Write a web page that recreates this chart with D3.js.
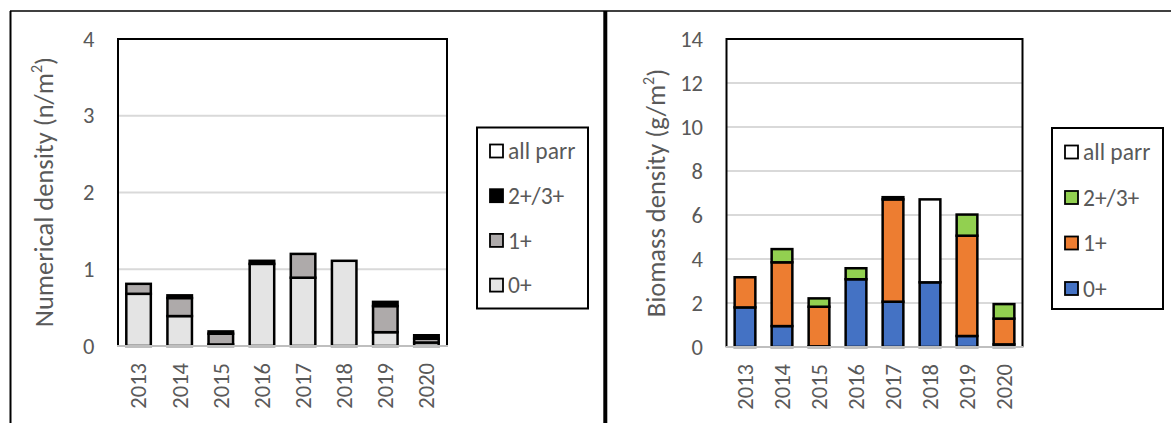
<!DOCTYPE html>
<html>
<head>
<meta charset="utf-8">
<script src="https://cdn.jsdelivr.net/npm/d3@7"></script>
<style>
  html, body { margin: 0; padding: 0; background: #fff; }
  svg { display: block; }
  text { font-family: Carlito, Lato, "Liberation Sans", sans-serif; fill: #595959; }
</style>
</head>
<body>
<svg id="chart" width="1171" height="423"></svg>
<script>
// Survey years
const years = ["2013", "2014", "2015", "2016", "2017", "2018", "2019", "2020"];

// Age classes, stacked from the bottom up
const ageClasses = ["0+", "1+", "2+/3+", "all parr"];

// Numerical density (n/m²) by age class
const numAge0 = [0.68, 0.39, 0.02, 1.07, 0.89, 1.11, 0.18, 0.045];
const numAge1 = [0.13, 0.235, 0.14, 0, 0.31, 0, 0.34, 0.05];
const numAge2 = [0, 0.035, 0.03, 0.04, 0, 0, 0.055, 0.045];
const numAllParr = [0, 0, 0, 0, 0, 0, 0, 0];

// Biomass density (g/m²) by age class
const bioAge0 = [1.8, 0.95, 0.03, 3.08, 2.06, 2.94, 0.5, 0.12];
const bioAge1 = [1.37, 2.9, 1.8, 0, 4.65, 0, 4.56, 1.17];
const bioAge2 = [0, 0.6, 0.38, 0.5, 0.1, 0, 0.96, 0.66];
const bioAllParr = [0, 0, 0, 0, 0, 3.77, 0, 0];

// Axis ticks
const numTicks = [0, 1, 2, 3, 4];
const bioTicks = [0, 2, 4, 6, 8, 10, 12, 14];

const svg = d3.select("#chart");
const FONT = "Carlito, Lato, sans-serif";

// Panel frames
const frame = svg.append("g").attr("fill", "none").attr("stroke", "#000");
frame.append("line").attr("x1", 10).attr("x2", 1171).attr("y1", 11).attr("y2", 11).attr("stroke-width", 1.5);
frame.append("line").attr("x1", 10.5).attr("x2", 10.5).attr("y1", 11).attr("y2", 423).attr("stroke-width", 2);
frame.append("line").attr("x1", 605.3).attr("x2", 605.3).attr("y1", 11).attr("y2", 423).attr("stroke-width", 4);

function buildRows(a0, a1, a2, ap) {
  return years.map((y, i) => ({ year: y, "0+": a0[i], "1+": a1[i], "2+/3+": a2[i], "all parr": ap[i] }));
}

function drawPanel(cfg) {
  const g = svg.append("g");
  const x = d3.scaleBand().domain(years).range([cfg.left, cfg.right])
    .paddingInner(cfg.pad).paddingOuter(cfg.pad / 2);
  const y = d3.scaleLinear().domain([0, cfg.max]).range([cfg.bottom, cfg.top]);

  // Gridlines
  g.append("g").selectAll("line").data(cfg.ticks.filter(t => t > 0 && t < cfg.max)).join("line")
    .attr("x1", cfg.left).attr("x2", cfg.right)
    .attr("y1", d => y(d)).attr("y2", d => y(d))
    .attr("stroke", "#d9d9d9").attr("stroke-width", 2);

  // Stacked bars
  const stack = d3.stack().keys(ageClasses)(cfg.rows);
  const layers = g.append("g").selectAll("g").data(stack).join("g")
    .attr("fill", d => cfg.colors[d.key]);
  layers.selectAll("rect").data(d => d.filter(s => s[1] - s[0] > 0)).join("rect")
    .attr("x", d => x(d.data.year) + 1)
    .attr("width", x.bandwidth() - 2)
    .attr("y", d => y(d[1]))
    .attr("height", d => y(d[0]) - y(d[1]))
    .attr("stroke", "#000").attr("stroke-width", 2.5);

  // Plot-area border: black on top and sides, gray baseline
  g.append("path")
    .attr("d", `M${cfg.left},${cfg.bottom}V${cfg.top}H${cfg.right}V${cfg.bottom}`)
    .attr("fill", "none").attr("stroke", "#000").attr("stroke-width", 2);
  g.append("line").attr("x1", cfg.left - 1).attr("x2", cfg.right + 1)
    .attr("y1", cfg.bottom).attr("y2", cfg.bottom)
    .attr("stroke", "#bfbfbf").attr("stroke-width", 2);

  // Y axis labels
  const yAxis = d3.axisLeft(y).tickValues(cfg.ticks).tickSize(0).tickPadding(23.5).tickFormat(d3.format("d"));
  const ya = g.append("g").attr("transform", `translate(${cfg.left},0)`).call(yAxis)
    .attr("font-size", 22.5).attr("font-family", FONT);
  ya.select(".domain").remove();
  ya.selectAll("text").attr("fill", "#595959");

  // X axis labels, rotated
  const xAxis = d3.axisBottom(x).tickSize(0).tickPadding(0);
  const xa = g.append("g").attr("transform", `translate(0,${cfg.bottom})`).call(xAxis)
    .attr("font-size", 22.5).attr("font-family", FONT);
  xa.select(".domain").remove();
  xa.selectAll("text")
    .attr("fill", "#595959")
    .attr("text-anchor", "end")
    .attr("dy", "0.35em")
    .attr("transform", "translate(0,17) rotate(-90)")
    .attr("x", 0).attr("y", 0);

  // Axis title
  const t = g.append("text")
    .attr("transform", `translate(${cfg.titleX},${cfg.titleY}) rotate(-90)`)
    .attr("text-anchor", "middle").attr("dy", "0.35em")
    .attr("font-size", 26.5);
  t.append("tspan").text(cfg.title);
  t.append("tspan").text("2").attr("font-size", 16).attr("dy", "-0.7em");
  t.append("tspan").text(")").attr("dy", "0.45em");

  // Legend
  const lg = g.append("g");
  lg.append("rect")
    .attr("x", cfg.legend.x).attr("y", cfg.legend.y)
    .attr("width", cfg.legend.w).attr("height", cfg.legend.h)
    .attr("fill", "#fff").attr("stroke", "#000").attr("stroke-width", 2);
  const items = ageClasses.slice().reverse();
  const li = lg.selectAll("g.item").data(items).join("g").attr("class", "item")
    .attr("transform", (d, i) => `translate(${cfg.legend.x + cfg.legend.sx},${cfg.legend.first + i * cfg.legend.step})`);
  li.append("rect").attr("x", 0).attr("y", -6.5).attr("width", 13).attr("height", 13)
    .attr("fill", d => cfg.colors[d]).attr("stroke", "#000").attr("stroke-width", 1.8);
  li.append("text").attr("x", 18).attr("y", 0).attr("dy", "0.35em")
    .attr("font-size", 23.5).text(d => d);
}

drawPanel({
  rows: buildRows(numAge0, numAge1, numAge2, numAllParr),
  left: 118, right: 447, top: 39, bottom: 346, max: 4, ticks: numTicks, pad: 0.355,
  colors: { "0+": "#e4e4e4", "1+": "#aeaaaa", "2+/3+": "#000000", "all parr": "#ffffff" },
  title: "Numerical density (n/m", titleX: 44, titleY: 192,
  legend: { x: 477, y: 127.5, w: 111, h: 181, sx: 13, first: 151, step: 44.7 }
});

drawPanel({
  rows: buildRows(bioAge0, bioAge1, bioAge2, bioAllParr),
  left: 726.5, right: 1022.5, top: 39, bottom: 347, max: 14, ticks: bioTicks, pad: 0.386,
  colors: { "0+": "#4472c4", "1+": "#ed7d31", "2+/3+": "#92d050", "all parr": "#ffffff" },
  title: "Biomass density (g/m", titleX: 656, titleY: 193,
  legend: { x: 1052, y: 128, w: 111, h: 181, sx: 13, first: 152, step: 45.5 }
});
</script>
</body>
</html>
